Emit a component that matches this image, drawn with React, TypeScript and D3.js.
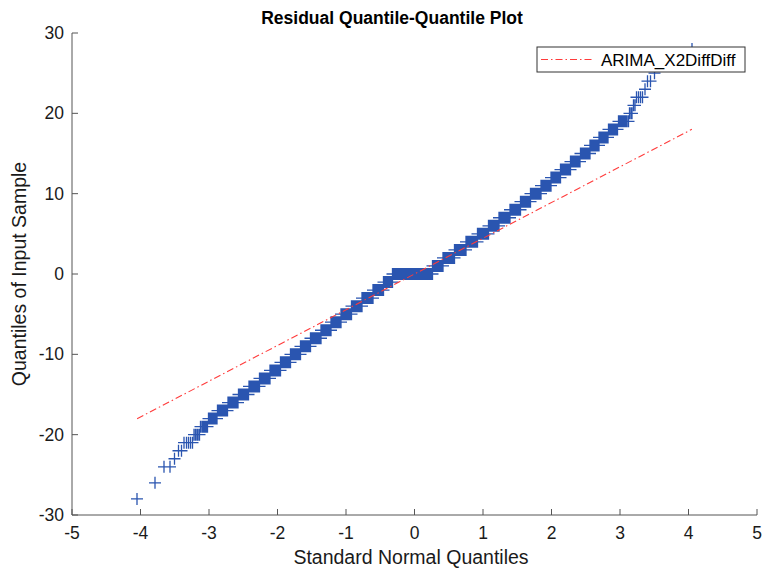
import React from "react";
import * as d3 from "d3";

// Residual values (integers) and how many residuals take each value
const residualValues = [
  -28, -26, -24, -23, -22, -21, -20, -19, -18, -17, -16, -15, -14, -13, -12, -11, -10, -9, -8, -7, -6, -5, -4, -3, -2, -1,
  0, 1, 2, 3, 4, 5, 6, 7, 8, 9, 10, 11, 12, 13, 14, 15, 16, 17, 18, 19, 20, 21, 22, 23, 24, 25, 26, 27, 28,
];
const residualCounts = [
  1, 1, 2, 1, 2, 5, 5, 8, 14, 23, 36, 53, 78, 112, 151, 195, 254, 324, 405, 496, 591, 719, 849, 965, 1053, 960,
  4448, 1152, 1139, 1039, 917, 762, 622, 517, 406, 309, 243, 183, 132, 98, 71, 50, 32, 23, 17, 12, 3, 2, 4, 1, 2, 1, 2, 1, 1,
];

const xTicks = [-5, -4, -3, -2, -1, 0, 1, 2, 3, 4, 5];
const yTicks = [-30, -20, -10, 0, 10, 20, 30];
const seriesName = "ARIMA_X2DiffDiff";

// Inverse of the standard normal CDF (Acklam's rational approximation)
function normInv(p: number): number {
  const a = [-3.969683028665376e1, 2.209460984245205e2, -2.759285104469687e2, 1.38357751867269e2, -3.066479806614716e1, 2.506628277459239];
  const b = [-5.447609879822406e1, 1.615858368580409e2, -1.556989798598866e2, 6.680131188771972e1, -1.328068155833527e1];
  const c = [-7.784894002430293e-3, -3.223964580411365e-1, -2.400758277161838, -2.549732943483575, 4.374664141464968, 2.938163982698783];
  const d = [7.784695709041462e-3, 3.224671290700398e-1, 2.445134137142996, 3.7544083701073];
  const plow = 0.02425;
  if (p < plow) {
    const q = Math.sqrt(-2 * Math.log(p));
    return (((((c[0] * q + c[1]) * q + c[2]) * q + c[3]) * q + c[4]) * q + c[5]) / ((((d[0] * q + d[1]) * q + d[2]) * q + d[3]) * q + 1);
  }
  if (p > 1 - plow) {
    const q = Math.sqrt(-2 * Math.log(1 - p));
    return -(((((c[0] * q + c[1]) * q + c[2]) * q + c[3]) * q + c[4]) * q + c[5]) / ((((d[0] * q + d[1]) * q + d[2]) * q + d[3]) * q + 1);
  }
  const q = p - 0.5;
  const r = q * q;
  return ((((((a[0] * r + a[1]) * r + a[2]) * r + a[3]) * r + a[4]) * r + a[5]) * q) /
    (((((b[0] * r + b[1]) * r + b[2]) * r + b[3]) * r + b[4]) * r + 1);
}

const W = 762;
const H = 570;
const left = 72;
const right = 757;
const top = 33;
const bottom = 515;
const font = "'Liberation Sans', Arial, Helvetica, sans-serif";

export default function App() {
  const x = d3.scaleLinear().domain([-5, 5]).range([left, right]);
  const y = d3.scaleLinear().domain([-30, 30]).range([bottom, top]);

  // sorted sample
  const sample: number[] = [];
  residualValues.forEach((v, i) => {
    for (let k = 0; k < residualCounts[i]; k++) sample.push(v);
  });
  const n = sample.length;
  const theo = sample.map((_, i) => normInv((i + 0.5) / n));

  // plus markers, merged into one path
  const half = 6;
  const seen = new Set<string>();
  let markerPath = "";
  for (let i = 0; i < n; i++) {
    const px = Math.round(x(theo[i]) * 2) / 2;
    const py = y(sample[i]);
    const key = px + "," + py;
    if (seen.has(key)) continue;
    seen.add(key);
    markerPath += `M${px - half},${py}h${2 * half}M${px},${py - half}v${2 * half}`;
  }

  // reference line through the first and third quartiles
  const q1 = d3.quantileSorted(sample, 0.25) as number;
  const q3 = d3.quantileSorted(sample, 0.75) as number;
  const z1 = normInv(0.25);
  const z3 = normInv(0.75);
  const slope = (q3 - q1) / (z3 - z1);
  const icpt = q1 - slope * z1;
  const xMin = theo[0];
  const xMax = theo[n - 1];
  const refLine = d3.line<number>().x((t) => x(t)).y((t) => y(icpt + slope * t))([xMin, xMax]) as string;

  const axisColor = "#555";
  const tickLen = 6;

  return (
    <svg width={W} height={H} style={{ position: "absolute", left: 0, top: 0, background: "#fff" }}>
      <rect x={0} y={0} width={W} height={H} fill="#fff" />
      <defs>
        <clipPath id="plotArea">
          <rect x={left} y={top} width={right - left} height={bottom - top} />
        </clipPath>
      </defs>

      <g clipPath="url(#plotArea)">
        <path d={markerPath} stroke="#2a55b0" strokeWidth={1.3} fill="none" />
        <path d={refLine} stroke="#ff3b3b" strokeWidth={1.1} fill="none" strokeDasharray="7,3,1.5,3" />
      </g>

      {/* axes */}
      <g stroke={axisColor} strokeWidth={1} fill="none">
        <line x1={left} y1={top} x2={left} y2={bottom} />
        <line x1={left} y1={bottom} x2={right} y2={bottom} />
        {xTicks.map((t) => (
          <line key={"xt" + t} x1={x(t)} x2={x(t)} y1={bottom} y2={bottom - tickLen} />
        ))}
        {yTicks.map((t) => (
          <line key={"yt" + t} x1={left} x2={left + tickLen} y1={y(t)} y2={y(t)} />
        ))}
      </g>

      <g fontFamily={font} fontSize={17.5} fill="#1a1a1a">
        {xTicks.map((t) => (
          <text key={"xl" + t} x={x(t)} y={bottom + 24} textAnchor="middle">
            {t}
          </text>
        ))}
        {yTicks.map((t) => (
          <text key={"yl" + t} x={left - 8} y={y(t) + 6} textAnchor="end">
            {t}
          </text>
        ))}
      </g>

      <text x={411} y={564} textAnchor="middle" fontFamily={font} fontSize={19.5} fill="#1a1a1a">
        Standard Normal Quantiles
      </text>
      <text
        transform={`translate(26,${(top + bottom) / 2}) rotate(-90)`}
        textAnchor="middle"
        fontFamily={font}
        fontSize={19.5}
        fill="#1a1a1a"
      >
        Quantiles of Input Sample
      </text>
      <text x={392} y={24} textAnchor="middle" fontFamily={font} fontSize={17.5} fontWeight="bold" fill="#000">
        Residual Quantile-Quantile Plot
      </text>

      {/* legend */}
      <g>
        <rect x={537} y={47} width={208} height={25} fill="#fff" stroke="#333" strokeWidth={1} />
        <line x1={541} x2={593} y1={59.5} y2={59.5} stroke="#ff3b3b" strokeWidth={1.1} strokeDasharray="7,3,1.5,3" />
        <text x={601} y={66} fontFamily={font} fontSize={17} fill="#000">
          {seriesName}
        </text>
      </g>
    </svg>
  );
}
